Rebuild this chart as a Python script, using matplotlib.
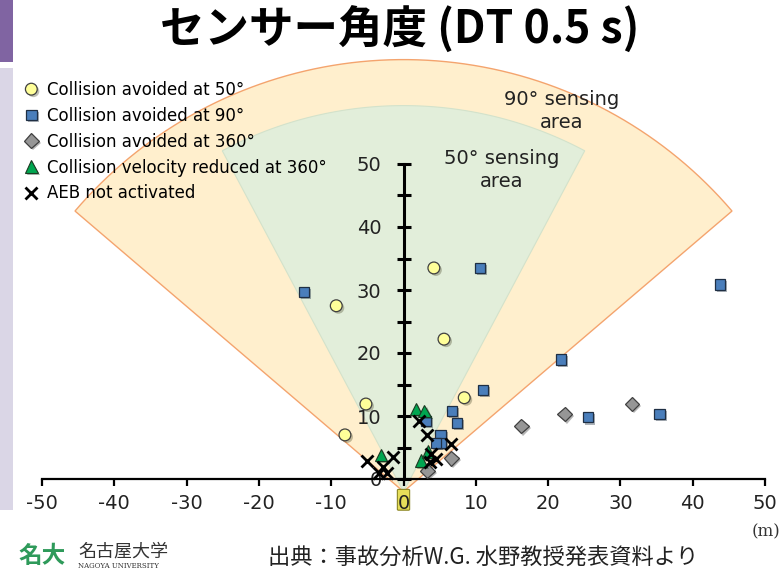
import numpy as np
import matplotlib
matplotlib.use("Agg")
import matplotlib.pyplot as plt
import matplotlib.patheffects as pe
from matplotlib.patches import Polygon, Rectangle, FancyBboxPatch

plt.rcParams['font.family'] = ['DejaVu Sans', 'Noto Sans CJK JP']

# data (m)
avoid50_x = [4.2, -9.3, 5.6, -5.2, -8.1, 8.4]
avoid50_y = [33.5, 27.5, 22.2, 11.9, 7.0, 12.9]

avoid90_x = [-13.8, 10.6, 43.8, 21.8, 11.0, 6.7, 7.4, 25.5, 35.4, 3.1, 5.1, 5.2, 4.5]
avoid90_y = [29.7, 33.5, 30.9, 19.0, 14.1, 10.8, 8.9, 9.8, 10.3, 9.2, 7.0, 5.7, 5.7]

avoid360_x = [31.6, 22.3, 16.3, 6.6, 3.3]
avoid360_y = [11.9, 10.3, 8.4, 3.3, 1.3]

reduced_x = [1.7, 2.9, -3.1, 2.4, 3.4]
reduced_y = [11.1, 10.8, 3.8, 2.9, 4.4]

noaeb_x = [2.1, 3.3, -5.1, -1.4, -2.9, -3.4, -2.3, 3.8, 4.5, 3.6, 6.6]
noaeb_y = [9.2, 7.0, 2.9, 3.5, 1.9, 1.0, 1.0, 4.0, 3.2, 2.7, 5.6]

xticks = np.arange(-50, 51, 10)
yticks = np.arange(0, 51, 10)

W, H = 782, 572
fig = plt.figure(figsize=(W / 100, H / 100), dpi=100)
ax = fig.add_axes([42 / W, 17.4 / H, 723 / W, 504 / H])
ax.set_xlim(-50, 50)
ax.set_ylim(-12, 68)

# sensing areas: fan shapes drawn round the sensor (pixel radius / angles converted to data)
px_x = 723 / 100.0
px_y = 504 / 80.0
apex_y = -2.0


def fan(radius_px, half_deg):
    t = np.radians(np.linspace(90 - half_deg, 90 + half_deg, 80))
    xs = radius_px * np.cos(t) / px_x
    ys = apex_y + radius_px * np.sin(t) / px_y
    return np.column_stack([np.r_[0, xs, 0], np.r_[apex_y, ys, apex_y]])


ax.add_patch(Polygon(fan(432, 49.5), closed=True, facecolor='#FFEFCD',
                     edgecolor='#F4A46E', lw=1.0, zorder=0.5, clip_on=False))
ax.add_patch(Polygon(fan(386, 28), closed=True, facecolor='#E2EEDA',
                     edgecolor='#D3E2CB', lw=0.8, zorder=0.6, clip_on=False))

ax.text(21.9, 58.4, "90° sensing\narea", ha='center', va='center', fontsize=14,
        linespacing=1.28, color='#222222')
ax.text(13.6, 49.0, "50° sensing\narea", ha='center', va='center', fontsize=14,
        linespacing=1.28, color='#222222')

# sensor
ax.add_patch(FancyBboxPatch((-0.7, -4.8), 1.4, 3.0, boxstyle="round,pad=0.15",
                            facecolor='#E6DE5A', edgecolor='#8A8420', lw=0.8,
                            zorder=0.7, clip_on=False))

shadow = [pe.SimplePatchShadow(offset=(1.5, -1.5), alpha=0.35), pe.Normal()]

ax.plot(avoid50_x, avoid50_y, 'o', ms=8.5, mfc='#FFFF99', mec='#404040', mew=0.9,
        ls='none', label='Collision avoided at 50°', zorder=4, path_effects=shadow)
ax.plot(avoid90_x, avoid90_y, 's', ms=7.5, mfc='#4A7EBB', mec='#1F2F44', mew=0.9,
        ls='none', label='Collision avoided at 90°', zorder=4, path_effects=shadow)
ax.plot(avoid360_x, avoid360_y, 'D', ms=7.5, mfc='#969696', mec='#404040', mew=0.9,
        ls='none', label='Collision avoided at 360°', zorder=4, path_effects=shadow)
ax.plot(reduced_x, reduced_y, '^', ms=9, mfc='#00A650', mec='#1C3A22', mew=0.8,
        ls='none', label='Collision velocity reduced at 360°', zorder=4, path_effects=shadow)
ax.plot(noaeb_x, noaeb_y, 'x', ms=9, mec='black', mew=2.0,
        ls='none', label='AEB not activated', zorder=5)

# axes through the origin
for s in ['top', 'right']:
    ax.spines[s].set_visible(False)
ax.spines['left'].set_position(('data', 0))
ax.spines['bottom'].set_position(('data', 0))
ax.spines['left'].set_bounds(0, 50)
ax.spines['bottom'].set_bounds(-50, 50)
ax.spines['left'].set_linewidth(2.2)
ax.spines['bottom'].set_linewidth(1.6)
ax.spines['left'].set_zorder(3)
ax.spines['bottom'].set_zorder(3)

ax.set_xticks(xticks)
ax.set_xticklabels([str(v) for v in xticks])
ax.set_yticks(yticks)
ax.set_yticklabels([str(v) for v in yticks])
ax.set_yticks(np.arange(5, 50, 10), minor=True)
ax.tick_params(axis='x', direction='out', length=5, width=1.6, pad=6,
               labelsize=14, labelcolor='#222222')
ax.tick_params(axis='y', which='both', direction='inout', length=9.5, width=2.2,
               pad=11, labelsize=14, labelcolor='#222222')

fig.legend(loc='upper left', bbox_to_anchor=(23 / W, 1 - 81 / H), frameon=False,
           fontsize=12, handlelength=1.0, handletextpad=0.45, labelspacing=0.47,
           borderpad=0, borderaxespad=0)

# slide furniture
fig.patches.append(Rectangle((0, 1 - 62 / H), 13 / W, 62 / H, transform=fig.transFigure,
                             facecolor='#8064A2', edgecolor='none'))
fig.patches.append(Rectangle((0, 1 - 510 / H), 13 / W, 442 / H, transform=fig.transFigure,
                             facecolor='#DAD6E6', edgecolor='none'))

fig.text(400 / W, 1 - 30 / H, "センサー角度 (DT 0.5 s)", ha='center', va='center',
         fontsize=32, fontweight='bold', family=['Noto Sans CJK JP', 'DejaVu Sans'])
fig.text(766 / W, 1 - 532 / H, "(m)", ha='center', va='center', fontsize=12,
         family='DejaVu Serif', color='#333333')
fig.text(42 / W, 1 - 556 / H, "名大", ha='center', va='center', fontsize=17,
         fontweight='bold', color='#2E9A5A', family=['Noto Sans CJK JP'])
fig.text(78 / W, 1 - 551 / H, "名古屋大学", ha='left', va='center', fontsize=13,
         color='#333333', family=['Noto Sans CJK JP'])
fig.text(78 / W, 1 - 566 / H, "NAGOYA UNIVERSITY", ha='left', va='center', fontsize=5,
         color='#333333', family='DejaVu Serif')
fig.text(268 / W, 2 / H, "出典：事故分析W.G. 水野教授発表資料より", ha='left', va='bottom',
         fontsize=16, color='#222222', family=['Noto Sans CJK JP'])

fig.savefig("out.png", dpi=100)
plt.close(fig)
